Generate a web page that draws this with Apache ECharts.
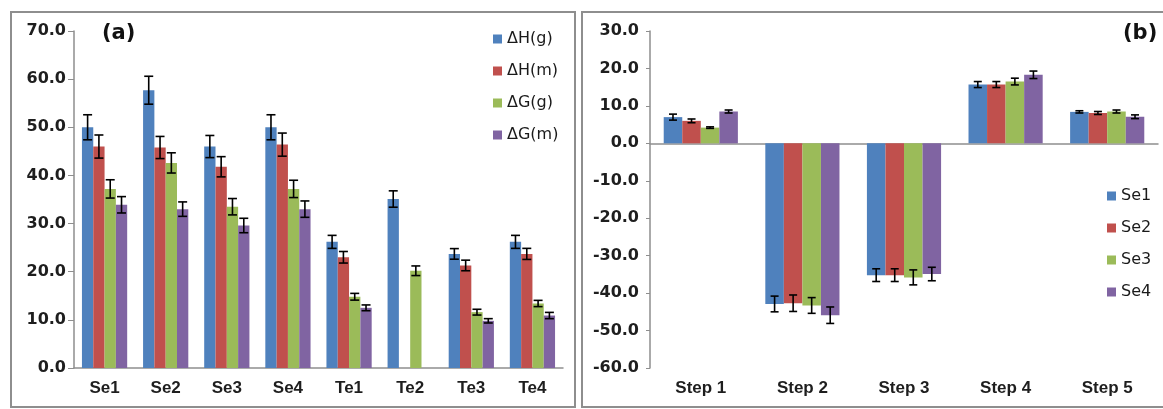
<!DOCTYPE html>
<html><head><meta charset="utf-8">
<script src="https://cdn.jsdelivr.net/npm/echarts@6/dist/echarts.min.js"></script>
<style>html,body{margin:0;padding:0;background:#fff}#c{width:1163px;height:409px}</style>
</head><body><div id="c"></div>
<script>
// ---- Panel (a) data ----
const catsA = ['Se1','Se2','Se3','Se4','Te1','Te2','Te3','Te4'];
const namesA = ['ΔH(g)','ΔH(m)','ΔG(g)','ΔG(m)'];
const dHg = [50.0, 57.7, 46.0, 50.0, 26.2, 35.1, 23.7, 26.2];
const dHm = [46.0, 45.8, 41.8, 46.4, 23.0, null, 21.3, 23.7];
const dGg = [37.2, 42.6, 33.5, 37.2, 14.8, 20.2, 11.6, 13.4];
const dGm = [33.9, 33.0, 29.6, 33.0, 12.5, null, 9.8, 10.9];
const eHg = [2.6, 2.9, 2.3, 2.6, 1.35, 1.7, 1.1, 1.35];
const eHm = [2.4, 2.3, 2.1, 2.4, 1.2, null, 1.1, 1.15];
const eGg = [1.9, 2.1, 1.7, 1.8, 0.7, 1.0, 0.6, 0.65];
const eGm = [1.7, 1.5, 1.5, 1.7, 0.6, null, 0.45, 0.65];
const ticksA = {min: 0, max: 70, interval: 10};

// ---- Panel (b) data ----
const catsB = ['Step 1','Step 2','Step 3','Step 4','Step 5'];
const namesB = ['Se1','Se2','Se3','Se4'];
const se1 = [7.0, -42.9, -35.2, 15.7, 8.4];
const se2 = [6.0, -42.7, -35.2, 15.7, 8.1];
const se3 = [4.2, -43.3, -35.8, 16.5, 8.5];
const se4 = [8.5, -45.9, -34.9, 18.3, 7.1];
const eSe1 = [0.8, 2.1, 1.7, 0.8, 0.3];
const eSe2 = [0.5, 2.2, 1.7, 0.8, 0.4];
const eSe3 = [0.2, 2.1, 2.0, 0.9, 0.4];
const eSe4 = [0.4, 2.2, 1.8, 1.0, 0.5];
const ticksB = {min: -60, max: 30, interval: 10};

const colors = ['#4F81BD','#C0504D','#9BBB59','#8064A2'];
const FONT = "'Liberation Sans', Arial, sans-serif";
const FONT2 = "'DejaVu Sans', sans-serif";
const gapA = 0.26, gapB = 0.27;

function errSeries(k, vals, errs, xi, yi, gap, capHalf){
  const data = [];
  vals.forEach((v,i)=>{ if(v!=null && errs[i]!=null) data.push([i, v, errs[i]]); });
  return {
    type:'custom', xAxisIndex:xi, yAxisIndex:yi, z:10, silent:true,
    data: data,
    renderItem: function(params, api){
      const ci = api.value(0), v = api.value(1), e = api.value(2);
      const catW = api.size([1,0])[0];
      const barW = catW*(1-gap)/4;
      const off = (k-1.5)*barW;
      const t = api.coord([ci, v+e]);
      const b = api.coord([ci, v-e]);
      const x = t[0]+off;
      const st = {stroke:'#000', lineWidth:1.6};
      return {type:'group', children:[
        {type:'line', shape:{x1:x,y1:t[1],x2:x,y2:b[1]}, style:st},
        {type:'line', shape:{x1:x-capHalf,y1:t[1],x2:x+capHalf,y2:t[1]}, style:st},
        {type:'line', shape:{x1:x-capHalf,y1:b[1],x2:x+capHalf,y2:b[1]}, style:st}
      ]};
    }
  };
}

const xLbl = {color:'#1e1e1e', fontSize:17, fontWeight:'bold', fontFamily:FONT};
const yLbl = {color:'#1e1e1e', fontSize:16, fontWeight:'bold', fontFamily:FONT2};
const gray = '#8e8e8e';

const valsA = [dHg,dHm,dGg,dGm], errsA=[eHg,eHm,eGg,eGm];
const valsB = [se1,se2,se3,se4], errsB=[eSe1,eSe2,eSe3,eSe4];

const series = [];
valsA.forEach((v,k)=>series.push({name:namesA[k], type:'bar', xAxisIndex:0, yAxisIndex:0,
  data:v.map(x=>x==null?'-':x), barGap:'0%', barCategoryGap:(gapA*100)+'%', itemStyle:{color:colors[k]}}));
valsB.forEach((v,k)=>series.push({name:namesB[k], type:'bar', xAxisIndex:1, yAxisIndex:1,
  data:v, barGap:'0%', barCategoryGap:(gapB*100)+'%', itemStyle:{color:colors[k]}}));
valsA.forEach((v,k)=>series.push(errSeries(k, v, errsA[k], 0, 0, gapA, 4.5)));
valsB.forEach((v,k)=>series.push(errSeries(k, v, errsB[k], 1, 1, gapB, 4)));

const option = {
  animation:false,
  color: colors,
  textStyle:{fontFamily:FONT},
  grid:[
    {left:74, top:31, width:489, height:337},
    {left:650, top:31, width:508, height:337}
  ],
  xAxis:[
    {type:'category', gridIndex:0, data:catsA, position:'bottom',
      axisLine:{lineStyle:{color:gray, width:1.5}}, axisTick:{length:6, lineStyle:{color:gray}},
      axisLabel:Object.assign({margin:12}, xLbl)},
    {type:'category', gridIndex:1, data:catsB, position:'bottom',
      axisLine:{onZero:true, lineStyle:{color:gray, width:1.5}}, axisTick:{length:6, lineStyle:{color:gray}},
      axisLabel:{show:false}},
    {type:'category', gridIndex:1, data:catsB, position:'bottom',
      axisLine:{show:false, onZero:false}, axisTick:{show:false},
      axisLabel:Object.assign({margin:12}, xLbl)}
  ],
  yAxis:[
    {type:'value', gridIndex:0, min:ticksA.min, max:ticksA.max, interval:ticksA.interval,
      axisLine:{show:true, lineStyle:{color:gray, width:1.5}}, axisTick:{show:true, length:6, lineStyle:{color:gray}},
      splitLine:{show:false}, axisLabel:Object.assign({margin:8, formatter:v=>v.toFixed(1)}, yLbl)},
    {type:'value', gridIndex:1, min:ticksB.min, max:ticksB.max, interval:ticksB.interval,
      axisLine:{show:true, onZero:false, lineStyle:{color:gray, width:1.5}}, axisTick:{show:true, length:4, lineStyle:{color:gray}},
      splitLine:{show:false}, axisLabel:Object.assign({margin:11, formatter:v=>v.toFixed(1)}, yLbl)}
  ],
  legend:[
    {data:namesA, orient:'vertical', left:493, top:29, padding:0, icon:'rect', itemWidth:9, itemHeight:9, itemGap:12,
      textStyle:{fontSize:16, color:'#1a1a1a', fontFamily:FONT2, lineHeight:20}},
    {data:namesB, orient:'vertical', left:1107, top:186, padding:0, icon:'rect', itemWidth:9, itemHeight:9, itemGap:12,
      textStyle:{fontSize:16, color:'#1a1a1a', fontFamily:FONT2, lineHeight:20}}
  ],
  graphic:[
    {type:'rect', shape:{x:11, y:12, width:564, height:395}, style:{fill:'none', stroke:gray, lineWidth:2}, silent:true},
    {type:'rect', shape:{x:582, y:12, width:600, height:395}, style:{fill:'none', stroke:gray, lineWidth:2}, silent:true},
    {type:'text', left:102, top:23, style:{text:'(a)', font:"bold 21px "+FONT2, fill:'#111'}},
    {type:'text', left:1123, top:23, style:{text:'(b)', font:"bold 21px "+FONT2, fill:'#111'}}
  ],
  series: series
};
const chart = echarts.init(document.getElementById('c'), null, {renderer:'canvas'});
chart.setOption(option);
</script>
</body></html>
